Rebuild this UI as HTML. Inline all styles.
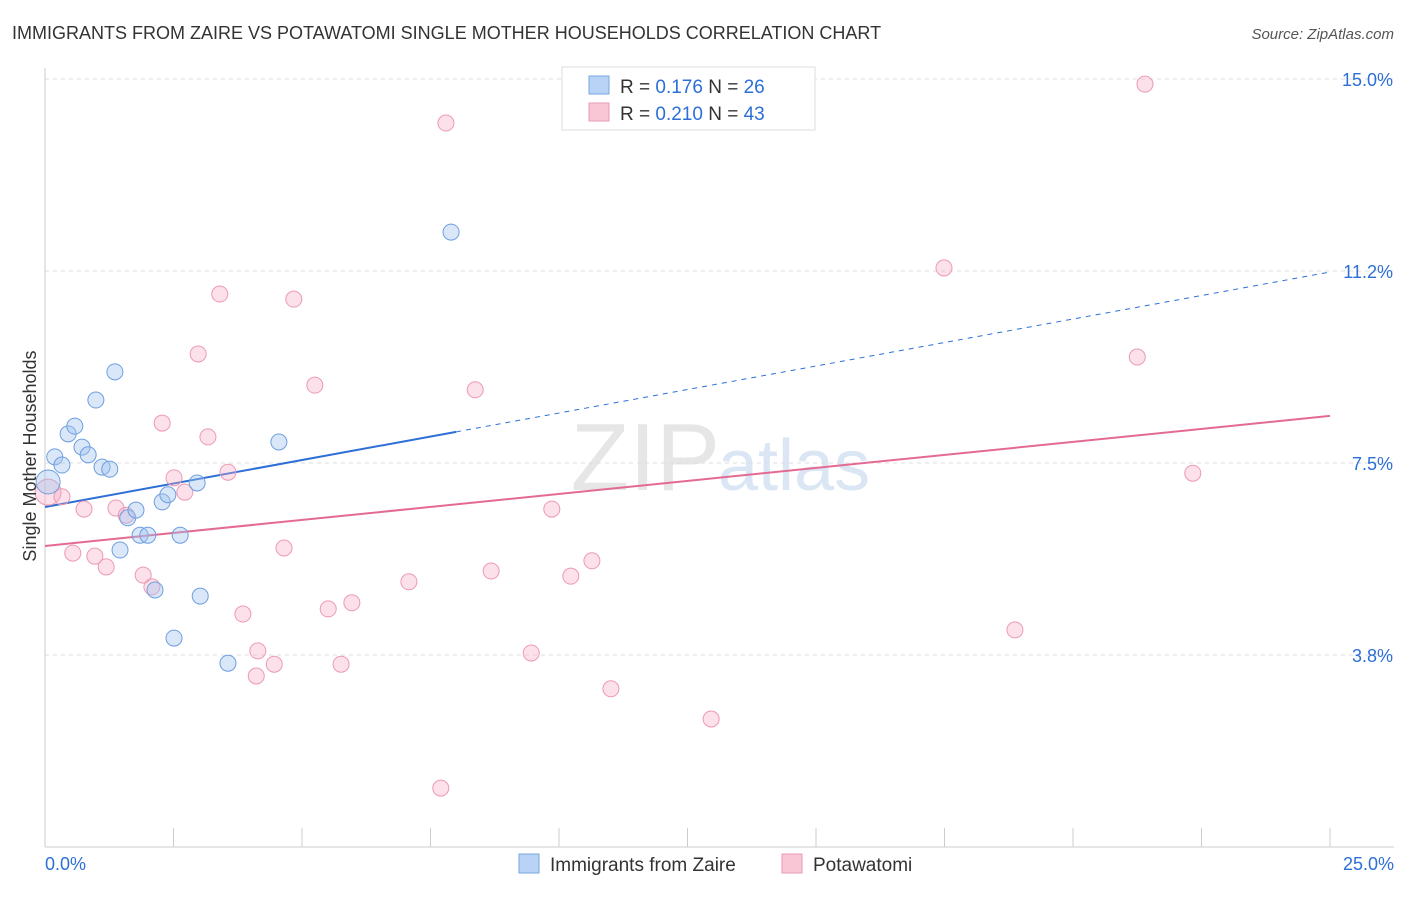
<!DOCTYPE html>
<html><head><meta charset="utf-8"><style>
body{margin:0;background:#fff;font-family:"Liberation Sans",sans-serif;}
svg text{font-family:"Liberation Sans",sans-serif;}
</style></head><body>
<svg id="c" width="1406" height="892" xmlns="http://www.w3.org/2000/svg">
<text x="12" y="39" font-size="18" fill="#333">IMMIGRANTS FROM ZAIRE VS POTAWATOMI SINGLE MOTHER HOUSEHOLDS CORRELATION CHART</text>
<text x="1394" y="39" font-size="15" fill="#555" font-style="italic" text-anchor="end">Source: ZipAtlas.com</text>
<text x="720" y="490" font-size="96" fill="#e6e6e6" text-anchor="end" font-family="Liberation Serif">ZIP</text>
<text x="718" y="490" font-size="72" fill="#dbe6f5">atlas</text>
<g id="grid"></g><g id="axes"></g><g id="lines"></g><g id="pts"></g>
<text x="36" y="456" font-size="18" fill="#333" text-anchor="middle" transform="rotate(-90 36 456)">Single Mother Households</text>
<g>
<rect x="562" y="67" width="253" height="63" fill="#fff" stroke="#ddd"/>
<rect x="589" y="76" width="20" height="18" fill="#b8d3f5" stroke="#7aa7e0"/>
<rect x="589" y="103" width="20" height="18" fill="#f9c6d5" stroke="#ec9ab3"/>
<text x="620" y="93" font-size="19" fill="#333">R = <tspan fill="#2d6fd6">0.176</tspan>   N = <tspan fill="#2d6fd6">26</tspan></text>
<text x="620" y="120" font-size="19" fill="#333">R = <tspan fill="#2d6fd6">0.210</tspan>   N = <tspan fill="#2d6fd6">43</tspan></text>
</g>
<g>
<rect x="519" y="854" width="20" height="19" fill="#b8d3f5" stroke="#7aa7e0"/>
<text x="550" y="871" font-size="19" fill="#333">Immigrants from Zaire</text>
<rect x="782" y="854" width="20" height="19" fill="#f9c6d5" stroke="#ec9ab3"/>
<text x="813" y="871" font-size="19" fill="#333">Potawatomi</text>
</g>
</svg>
<script>
const blueX=[.19,.33,.45,.58,.72,.84,.99,1.11,1.26,1.36,1.46,1.61,1.77,1.85,2.00,2.14,2.28,2.39,2.51,2.63,2.96,3.02,3.56,4.55,7.90,.06];
const blueY=[7.62,7.46,8.07,8.22,7.81,7.66,8.73,7.42,7.38,9.28,5.80,6.43,6.58,6.09,6.09,5.02,6.74,6.88,4.08,6.09,7.11,4.90,3.59,7.91,12.01,7.13];
const pinkX=[.06,.33,.54,.76,.97,1.19,1.38,1.58,1.91,2.08,2.28,2.51,2.72,2.98,3.17,3.40,3.56,3.85,4.11,4.14,4.46,4.65,4.84,5.25,5.51,5.76,5.97,7.08,7.80,8.37,8.68,9.46,9.86,10.23,10.64,11.01,12.96,7.70,17.49,18.87,21.25,21.40,22.33];
const pinkY=[6.93,6.84,5.74,6.60,5.68,5.47,6.62,6.48,5.31,5.08,8.28,7.21,6.93,9.63,8.01,10.80,7.32,4.55,3.34,3.83,3.57,5.84,10.70,9.02,4.65,3.57,4.77,5.18,14.14,8.93,5.39,3.79,6.60,5.29,5.59,3.09,2.50,1.15,11.31,4.24,9.57,14.90,7.30];
const yTicks=[3.8,7.5,11.2,15.0];
const yTickVals=[3.75,7.5,11.25,15];
const xTickVals=[0,2.5,5,7.5,10,12.5,15,17.5,20,22.5,25];
const blueTrend=[6.64,11.23];
const pinkTrend=[5.88,8.42];
const blueSolidEnd=8.0;
const NS="http://www.w3.org/2000/svg";
const sx=v=>45+v*51.4, sy=v=>847-v*51.2;
function mk(p,t,a){const e=document.createElementNS(NS,t);for(const k in a)e.setAttribute(k,a[k]);document.getElementById(p).appendChild(e);return e;}
yTickVals.forEach((v,i)=>{
 const g=mk('grid','line',{x1:45,x2:1394,y1:sy(v),y2:sy(v),stroke:'#ddd','stroke-dasharray':'4,4'});
 
 
 const t=mk('axes','text',{x:1393,y:sy(v)+7,'font-size':18,fill:'#2d6fd6','text-anchor':'end'});
 t.textContent=yTicks[i].toFixed(1)+'%';
 
 
});
const ax=mk('axes','line',{x1:45,x2:1394,y1:847,y2:847,stroke:'#ccc'});


const ay=mk('axes','line',{x1:45,x2:45,y1:68,y2:847,stroke:'#ccc'});


xTickVals.forEach(v=>{
 const t=mk('axes','line',{x1:sx(v),x2:sx(v),y1:828,y2:847,stroke:'#ccc'});
 
 
});
const xl=mk('axes','text',{x:45,y:870,'font-size':18,fill:'#2d6fd6'});xl.textContent='0.0%';


const xr=mk('axes','text',{x:1394,y:870,'font-size':18,fill:'#2d6fd6','text-anchor':'end'});xr.textContent='25.0%';


function ty(t,x){return t[0]+(t[1]-t[0])*x/25;}
const l1=mk('lines','line',{x1:sx(0),y1:sy(ty(blueTrend,0)),x2:sx(blueSolidEnd),y2:sy(ty(blueTrend,blueSolidEnd)),stroke:'#2d6fd6','stroke-width':2});


const l2=mk('lines','line',{x1:sx(blueSolidEnd),y1:sy(ty(blueTrend,blueSolidEnd)),x2:sx(25),y2:sy(ty(blueTrend,25)),stroke:'#2d6fd6','stroke-width':1,'stroke-dasharray':'5,5'});


const l3=mk('lines','line',{x1:sx(0),y1:sy(ty(pinkTrend,0)),x2:sx(25),y2:sy(ty(pinkTrend,25)),stroke:'#e46a92','stroke-width':2});


pinkX.forEach((x,i)=>{
 const c=mk('pts','circle',{cx:sx(x),cy:sy(pinkY[i]),r:i==0?13:8,fill:'rgba(246,170,195,0.35)',stroke:'#ec9ab3'});
 
 
});
blueX.forEach((x,i)=>{
 const c=mk('pts','circle',{cx:sx(x),cy:sy(blueY[i]),r:i==25?12:8,fill:'rgba(160,195,240,0.4)',stroke:'#6e9fdf'});
 
 
});
</script>
</body></html>
